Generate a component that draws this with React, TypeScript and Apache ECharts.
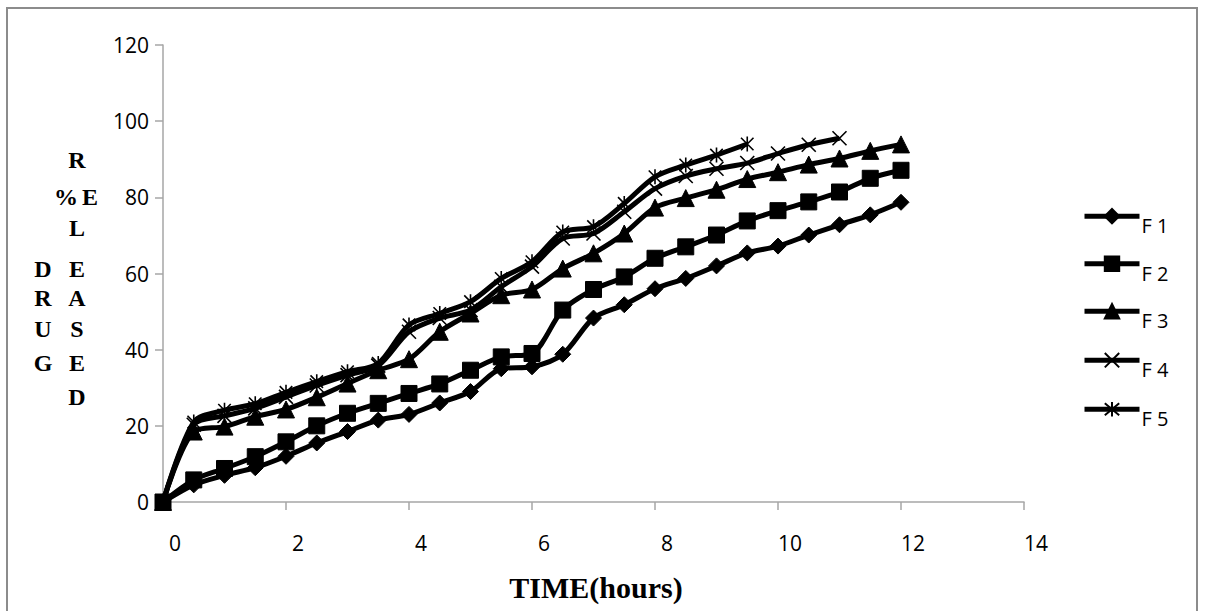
import React, { useEffect, useRef } from "react";
import * as echarts from "echarts";

const times = [0, 0.5, 1, 1.5, 2, 2.5, 3, 3.5, 4, 4.5, 5, 5.5, 6, 6.5, 7, 7.5, 8, 8.5, 9, 9.5, 10, 10.5, 11, 11.5, 12];
const f1 = [0, 4.5, 7, 9, 12, 15.5, 18.5, 21.5, 23, 26, 29, 35, 35.5, 38.8, 48.3, 51.8, 56, 58.7, 62, 65.4, 67.2, 70.1, 72.8, 75.4, 78.7];
const f2 = [0, 5.8, 8.8, 11.9, 15.8, 20, 23.3, 25.9, 28.5, 31, 34.6, 38.1, 39, 50.4, 55.8, 59.1, 64, 67, 70.1, 73.8, 76.5, 78.8, 81.4, 85, 87.1];
const f3 = [0, 18.5, 19.8, 22.4, 24.3, 27.5, 31.1, 34.6, 37.5, 44.7, 49.5, 54.3, 55.8, 61.3, 65.3, 70.5, 77.3, 79.8, 82, 84.8, 86.6, 88.6, 90.2, 92.2, 93.9];
const f4 = [0, 20.3, 22.6, 24.6, 27.6, 30.6, 33.3, 35.8, 44.7, 48.3, 50.4, 56.5, 61.8, 69.2, 70.5, 76.2, 82.3, 85.6, 87.5, 89, 91.5, 93.8, 95.5];
const f5 = [0, 21, 24.1, 25.8, 28.8, 31.6, 34.2, 36.4, 46.5, 49.5, 52.6, 58.7, 63.1, 70.9, 72.3, 78.4, 85.4, 88.5, 91.1, 94];

const seriesNames = ["F 1", "F 2", "F 3", "F 4", "F 5"];
const xTicks = { min: 0, max: 14, interval: 2 };
const yTicks = { min: 0, max: 120, interval: 20 };
const xTitle = "TIME(hours)";

const X_PATH = "path://M0 0L10 10M10 0L0 10";
const STAR_PATH = "path://M0 0L10 10M10 0L0 10M5 -1L5 11";

function pairs(vals: number[]) {
  return vals.map((v, i) => [times[i], v]);
}

export default function App() {
  const ref = useRef<HTMLDivElement>(null);
  useEffect(() => {
    const chart = echarts.init(ref.current!, null, { renderer: "svg" });
    const lineStyle = { color: "#000", width: 5 };
    const base = {
      type: "line" as const,
      smooth: 0.3,
      lineStyle,
      itemStyle: { color: "#000", borderColor: "#000", borderWidth: 1 },
      symbolKeepAspect: true,
    };
    const serifBold = { fontFamily: "Liberation Serif", fontWeight: "bold" as const, fill: "#000" };
    const yLetters: [string, number, number][] = [
      ["R", 77, 160],
      ["%", 66, 197],
      ["E", 90, 197],
      ["L", 77, 228],
      ["D", 43, 269],
      ["E", 77, 269],
      ["R", 43, 298],
      ["A", 77, 298],
      ["U", 43, 329],
      ["S", 77, 329],
      ["G", 43, 363],
      ["E", 77, 363],
      ["D", 77, 397],
    ];
    chart.setOption({
      animation: false,
      backgroundColor: "#fff",
      grid: { left: 163, right: 181, top: 45, bottom: 109, containLabel: false },
      xAxis: {
        type: "value",
        min: xTicks.min,
        max: xTicks.max,
        interval: xTicks.interval,
        axisLine: { show: true, onZero: false, lineStyle: { color: "#a6a6a6", width: 1.5 } },
        axisTick: { show: true, length: 8, lineStyle: { color: "#a6a6a6", width: 1.5 } },
        splitLine: { show: false },
        axisLabel: { margin: 30, fontSize: 21, fontFamily: "Open Sans", color: "#000", padding: [0, 0, 0, 24] },
      },
      yAxis: {
        type: "value",
        min: yTicks.min,
        max: yTicks.max,
        interval: yTicks.interval,
        axisLine: { show: true, lineStyle: { color: "#a6a6a6", width: 1.5 } },
        axisTick: { show: true, length: 8, lineStyle: { color: "#a6a6a6", width: 1.5 } },
        splitLine: { show: false },
        axisLabel: { margin: 14, fontSize: 21, fontFamily: "Open Sans", color: "#000" },
      },
      legend: {
        orient: "vertical",
        left: 1082,
        top: 208,
        padding: 0,
        itemWidth: 55,
        itemHeight: 18,
        itemGap: 19.8,
        lineStyle: { width: 5 },
        formatter: "{a|{name}}",
        textStyle: {
          fontSize: 20,
          fontFamily: "Open Sans",
          color: "#000",
          rich: { a: { fontSize: 20, fontFamily: "Open Sans", color: "#000", padding: [19, 0, 0, -3] } },
        },
        data: seriesNames,
      },
      graphic: [
        {
          type: "rect",
          shape: { x: 7, y: 8, width: 1190, height: 640 },
          style: { fill: "none", stroke: "#8c8c8c", lineWidth: 2 },
          silent: true,
        },
        ...yLetters.map(([t, x, y]) => ({
          type: "text",
          x,
          y,
          style: { ...serifBold, text: t, fontSize: 24, align: "center", verticalAlign: "middle" },
        })),
        {
          type: "text",
          x: 596,
          y: 587,
          style: { ...serifBold, text: xTitle, fontSize: 30, align: "center", verticalAlign: "middle" },
        },
      ],
      series: [
        { ...base, name: seriesNames[0], data: pairs(f1), symbol: "diamond", symbolSize: 16 },
        { ...base, name: seriesNames[1], data: pairs(f2), symbol: "rect", symbolSize: 16 },
        { ...base, name: seriesNames[2], data: pairs(f3), symbol: "triangle", symbolSize: 17 },
        {
          ...base,
          name: seriesNames[3],
          data: pairs(f4),
          symbol: X_PATH,
          symbolSize: 14,
          itemStyle: { color: "none", borderColor: "#000", borderWidth: 1.6 },
        },
        {
          ...base,
          name: seriesNames[4],
          data: pairs(f5),
          symbol: STAR_PATH,
          symbolSize: 15,
          itemStyle: { color: "none", borderColor: "#000", borderWidth: 1.6 },
        },
      ],
    });
    return () => chart.dispose();
  }, []);
  return (
    <div
      ref={ref}
      style={{ position: "absolute", left: 0, top: 0, width: 1205, height: 611, background: "#fff" }}
    />
  );
}
